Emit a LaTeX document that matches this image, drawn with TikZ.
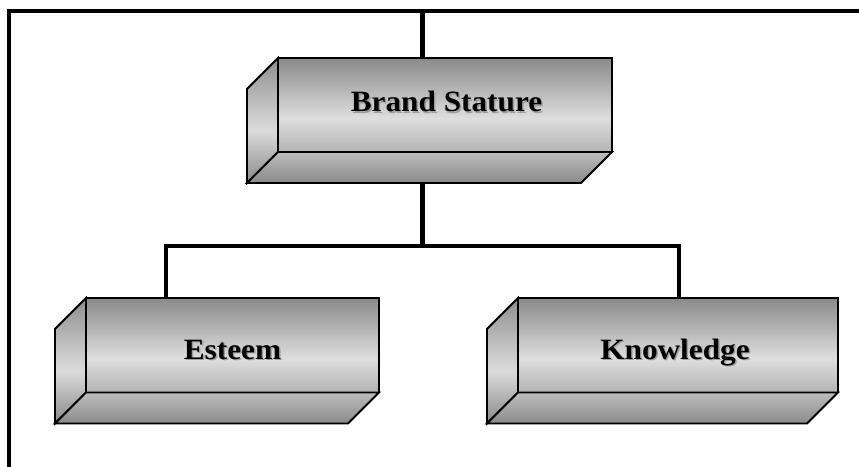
\documentclass[tikz,border=0pt]{standalone}
\usepackage{fontspec}
\newfontfamily\lblfont[FakeStretch=1.06]{Liberation Serif}
\definecolor{ftop}{gray}{0.54}
\definecolor{flight}{gray}{0.87}
\definecolor{fbot}{gray}{0.70}
\definecolor{ltop}{gray}{0.56}
\definecolor{llight}{gray}{0.86}
\definecolor{lbot}{gray}{0.54}
\definecolor{btop}{gray}{0.74}
\definecolor{bbot}{gray}{0.54}
\definecolor{shadowgray}{gray}{0.62}
\pgfdeclareverticalshading{frontshade}{100bp}{color(0bp)=(fbot); color(25bp)=(fbot); color(43bp)=(flight); color(75bp)=(ftop); color(100bp)=(ftop)}
\pgfdeclareverticalshading{leftshade}{100bp}{color(0bp)=(lbot); color(25bp)=(lbot); color(46bp)=(llight); color(75bp)=(ltop); color(100bp)=(ltop)}
\pgfdeclareverticalshading{bottomshade}{100bp}{color(0bp)=(bbot); color(25bp)=(bbot); color(75bp)=(btop); color(100bp)=(btop)}
\tikzset{
  front/.style={draw=black, line width=1.8pt, shading=frontshade, rectangle, inner sep=0pt, outer sep=0pt},
  sideface/.style={draw=black, line width=1.8pt, shading=leftshade, line join=miter},
  botface/.style={draw=black, line width=1.8pt, shading=bottomshade, line join=miter},
  conn/.style={draw=black, line width=4.8pt, line join=miter},
  frame/.style={draw=black, line width=4.6pt, line join=miter},
  lbl/.style={font=\lblfont\bfseries\fontsize{29.5}{31}\selectfont, inner sep=0pt, anchor=base, text=black},
  lblshadow/.style={lbl, text=shadowgray}
}
\newcommand\mkslab[1]{%
  \path[sideface] (#1.north west) -- ([shift={(-31,31)}]#1.north west) -- ([shift={(-31,31)}]#1.south west) -- (#1.south west) -- cycle;
  \path[botface] (#1.south west) -- (#1.south east) -- ([shift={(-31,31)}]#1.south east) -- ([shift={(-31,31)}]#1.south west) -- cycle;
}
\begin{document}
\begin{tikzpicture}[x=1pt, y=-1pt]
\useasboundingbox (0,0) rectangle (859,466);
% frame
\coordinate (fr) at (861,11);
\coordinate (fc) at (9,11);
\coordinate (fb) at (9,468);
\draw[frame] (fr) -- (fc) -- (fb);
% boxes
\node[front, minimum width=334pt, minimum height=94pt] (brand) at (445,105) {};
\mkslab{brand}
\node[front, minimum width=293pt, minimum height=94.5pt] (esteem) at (232.5,345.25) {};
\mkslab{esteem}
\node[front, minimum width=320pt, minimum height=94.5pt] (knowledge) at (678,345.25) {};
\mkslab{knowledge}
% labels
\node[lblshadow] (brandsh) at (448,113.2) {Brand Stature};
\node[lbl] (brandlbl) at (446.5,111.7) {Brand Stature};
\node[lblshadow] (esteemsh) at (234,360.5) {Esteem};
\node[lbl] (esteemlbl) at (232.5,359) {Esteem};
\node[lblshadow] (knowsh) at (676.5,360.5) {Knowledge};
\node[lbl] (knowlbl) at (675,359) {Knowledge};
% connectors
\coordinate (ftop) at (422.5,11);
\coordinate (bout) at (422.5,183.3);
\coordinate (jn) at (422.5,246);
\coordinate (jl) at (166,246);
\coordinate (jr) at (679,246);
\draw[conn] (ftop) -- (ftop |- brand.north);
\draw[conn] (bout) -- (jn);
\draw[conn] (jl |- esteem.north) -- (jl) -- (jr) -- (jr |- knowledge.north);
\end{tikzpicture}
\end{document}
